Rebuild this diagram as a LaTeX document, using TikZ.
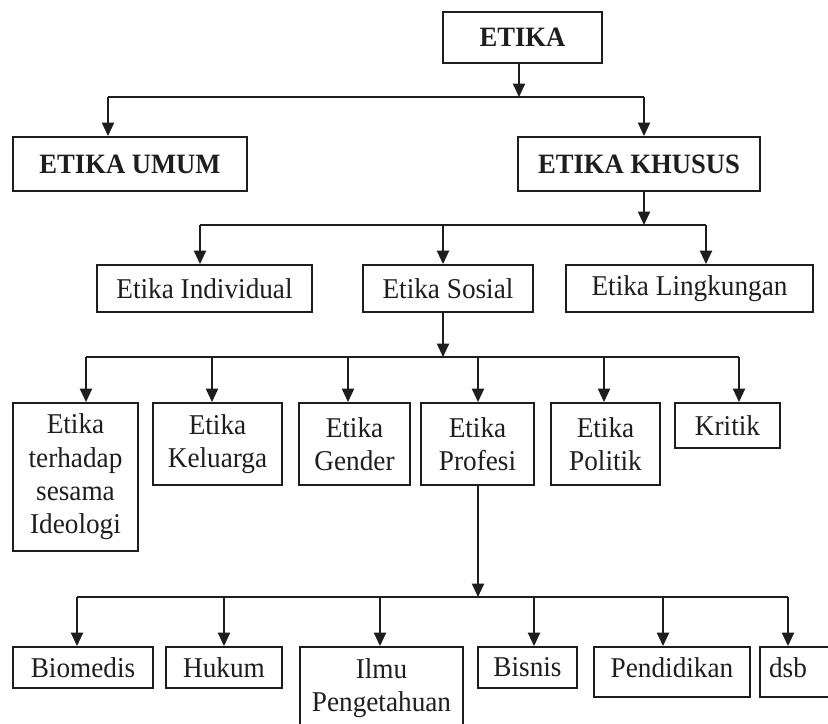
\documentclass[tikz,border=0pt]{standalone}
\usepackage{fontspec}
\setmainfont{Liberation Serif}[FakeStretch=0.95]
\usetikzlibrary{arrows.meta}
\definecolor{ink}{HTML}{1E1E1E}
\def\pxu{0.75pt}
\tikzset{
  basefont/.style={font=\fontsize{21.5}{25}\selectfont},
  sz/.style 2 args={minimum width=#1*\pxu, minimum height=#2*\pxu},
  bx/.style={draw=ink, line width=1.4pt, inner sep=0pt, align=center, text=ink, basefont},
  bxb/.style={bx, font=\fontsize{21}{25}\selectfont\bfseries},
  txt/.style={inner sep=0pt, align=center, text=ink, basefont},
  link/.style={draw=ink, line width=1.4pt},
  arr/.style={link, -{Triangle[length=10pt,width=9pt]}},
}
\begin{document}
\begin{tikzpicture}[x=\pxu, y=-\pxu]
\clip (0,0) rectangle (828,724);
\fill[white] (0,0) rectangle (828,724);

% level 0 and 1
\node[bxb, sz={159}{51}] (etika) at (522.5,37.5) {ETIKA};
\node[bxb, sz={234}{54}] (umum) at (130,164) {ETIKA UMUM};
\node[bxb, sz={242}{54}] (khusus) at (639,164) {ETIKA KHUSUS};

% level 2
\node[bx, sz={215}{47}] (indiv) at (204.5,288.5) {Etika Individual};
\node[bx, sz={170}{47}] (sosial) at (448,288.5) {Etika Sosial};
\node[bx, sz={247}{47}] (lingk) at (689.5,288.5) {Etika Lingkungan};

% level 3
\node[bx, sz={125}{148}] (sesama) at (75.5,477) {Etika\\terhadap\\sesama\\Ideologi};
\node[bx, sz={129}{82}] (kel) at (217.5,444) {Etika\\Keluarga};
\node[bx, sz={111}{82}] (gen) at (354.5,444) {Etika\\Gender};
\node[bx, sz={113}{82}] (prof) at (477.5,444) {Etika\\Profesi};
\node[bx, sz={109}{82}] (pol) at (605.5,444) {Etika\\Politik};
\node[bx, sz={105}{45}] (krit) at (727.5,425.5) {Kritik};

% level 4
\node[bx, sz={140}{41}] (bio) at (83,667.5) {Biomedis};
\node[bx, sz={116}{41}] (huk) at (224,667.5) {Hukum};
\node[bx, sz={163}{113}] (ilmu) at (381.5,703.5) {};
\node[txt] at (381.5,688) {Ilmu\\Pengetahuan};
\node[bx, sz={99}{41}] (bis) at (527.5,667.5) {Bisnis};
\node[bx, sz={156}{50}] (pend) at (672,672) {};
\node[txt] at (672,668) {Pendidikan};
\node[bx, sz={72}{50}] (dsb) at (796,672) {};
\node[txt] at (788,667.5) {dsb};

% bus 1: ETIKA -> UMUM, KHUSUS
\coordinate (s1) at (519,97);
\coordinate (b1a) at (108,97);
\coordinate (b1b) at (644,97);
\draw[arr] (s1 |- etika.south) -- (s1);
\draw[link] (b1a) -- (b1b);
\draw[arr] (b1a) -- (b1a |- umum.north);
\draw[arr] (b1b) -- (b1b |- khusus.north);

% bus 2: KHUSUS -> level 2
\coordinate (s2) at (644,225);
\coordinate (b2a) at (200,225);
\coordinate (b2b) at (443,225);
\coordinate (b2c) at (706,225);
\draw[arr] (s2 |- khusus.south) -- (s2);
\draw[link] (b2a) -- (b2c);
\draw[arr] (b2a) -- (b2a |- indiv.north);
\draw[arr] (b2b) -- (b2b |- sosial.north);
\draw[arr] (b2c) -- (b2c |- lingk.north);

% bus 3: Sosial -> level 3
\coordinate (s3) at (443,357);
\coordinate (b3a) at (86,357);
\coordinate (b3b) at (212,357);
\coordinate (b3c) at (348,357);
\coordinate (b3d) at (478,357);
\coordinate (b3e) at (604,357);
\coordinate (b3f) at (739,357);
\draw[arr] (s3 |- sosial.south) -- (s3);
\draw[link] (b3a) -- (b3f);
\draw[arr] (b3a) -- (b3a |- sesama.north);
\draw[arr] (b3b) -- (b3b |- kel.north);
\draw[arr] (b3c) -- (b3c |- gen.north);
\draw[arr] (b3d) -- (b3d |- prof.north);
\draw[arr] (b3e) -- (b3e |- pol.north);
\draw[arr] (b3f) -- (b3f |- krit.north);

% bus 4: Profesi -> level 4
\coordinate (s4) at (478,597);
\coordinate (b4a) at (77,597);
\coordinate (b4b) at (224,597);
\coordinate (b4c) at (380,597);
\coordinate (b4d) at (534,597);
\coordinate (b4e) at (663,597);
\coordinate (b4f) at (788,597);
\draw[arr] (s4 |- prof.south) -- (s4);
\draw[link] (b4a) -- (b4f);
\draw[arr] (b4a) -- (b4a |- bio.north);
\draw[arr] (b4b) -- (b4b |- huk.north);
\draw[arr] (b4c) -- (b4c |- ilmu.north);
\draw[arr] (b4d) -- (b4d |- bis.north);
\draw[arr] (b4e) -- (b4e |- pend.north);
\draw[arr] (b4f) -- (b4f |- dsb.north);
\end{tikzpicture}
\end{document}
